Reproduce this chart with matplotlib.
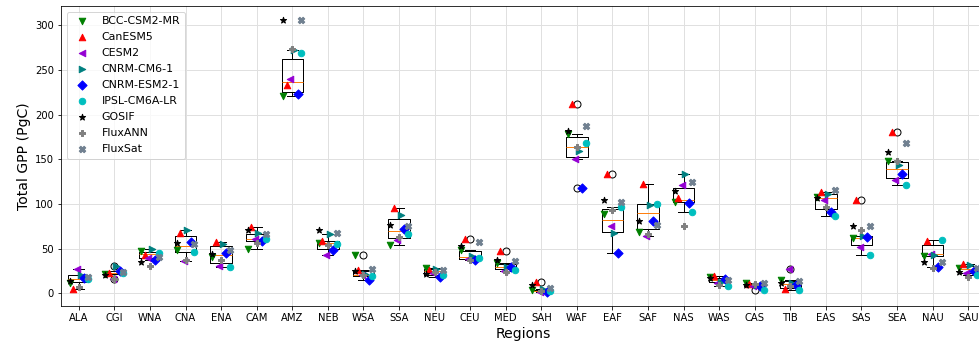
import numpy as np
import matplotlib
matplotlib.use("Agg")
import matplotlib.pyplot as plt

regions = ["ALA", "CGI", "WNA", "CNA", "ENA", "CAM", "AMZ", "NEB", "WSA", "SSA",
           "NEU", "CEU", "MED", "SAH", "WAF", "EAF", "SAF", "NAS", "WAS", "CAS",
           "TIB", "EAS", "SAS", "SEA", "NAU", "SAU"]

bcc = [12, 22, 47, 49, 41, 50, 221, 56.3, 42.5, 53.7, 28, 49, 33.5, 3.5, 178, 89, 69,
       102.5, 18, 11, 14.5, 108, 61.5, 148, 41.5, 28]
canesm5 = [4.5, 23, 43, 67, 57, 74, 233, 58.6, 25.7, 96, 26, 61, 47.5, 13, 212, 134, 122,
           107, 19.5, 10, 4.5, 113, 105, 181, 58, 33]
cesm2 = [27, 16, 39, 36, 31, 60.4, 239.5, 42.5, 20, 60, 23, 38.5, 25.5, 2, 150.5, 75, 64.5,
         121, 12, 8, 27, 105, 51.5, 127, 44.5, 22.5]
cnrm_cm6 = [21, 31, 50, 71, 55, 67.5, 272, 66.8, 22, 87.3, 27, 42, 29, 4.5, 159, 67, 99,
            133.5, 13, 9.5, 11, 111.5, 64.5, 144, 42.5, 31.5]
cnrm_esm2 = [17.5, 25.5, 37, 57, 45, 58.2, 222.8, 48, 15.3, 72.4, 18, 37, 30, 1.5, 117.5, 45.5,
             81.5, 101.5, 16, 8.5, 9.3, 91.5, 63, 133.5, 29, 25.5]
ipsl = [15.5, 22.5, 45, 46, 29.5, 61, 269.4, 55.6, 19, 66.8, 20, 40, 26.5, 2.5, 168, 96.5, 100,
        90.5, 8, 3.8, 3.8, 86, 43, 121.5, 60, 20.5]
gosif = [14, 21, 35, 56.8, 44, 70.5, 306, 70.5, 25, 76, 22, 52.6, 37, 9, 182, 105, 81,
         114.6, 17.5, 9.3, 12, 107, 75.4, 158.6, 35.5, 24.3]
fluxann = [7, 16, 31, 37.6, 37, 56, 274, 53.7, 21, 63, 24, 37.7, 24, 3, 163.4, 93, 66,
           75.4, 9.3, 10.5, 8, 97, 70.9, 148.5, 28, 17.9]
fluxsat = [18, 24, 40.6, 55.6, 48, 66.8, 306, 67.5, 26.9, 75, 25.7, 57.5, 36.2, 6.3, 187.3,
           102.6, 76.5, 125, 15, 12, 14.2, 115.7, 75.4, 167.9, 35.5, 28]

model_names = ["BCC-CSM2-MR", "CanESM5", "CESM2", "CNRM-CM6-1", "CNRM-ESM2-1", "IPSL-CM6A-LR"]
model_values = [bcc, canesm5, cesm2, cnrm_cm6, cnrm_esm2, ipsl]
obs_names = ["GOSIF", "FluxANN", "FluxSat"]
obs_values = [gosif, fluxann, fluxsat]

model_styles = [("v", "green"), ("^", "red"), ("<", "darkviolet"), (">", "teal"),
                ("D", "blue"), ("o", "c")]
model_offsets = [-0.25, -0.15, -0.05, 0.05, 0.15, 0.25]
obs_styles = [("*", "black"), ("P", "grey"), ("X", "slategrey")]
obs_offsets = [-0.25, 0.0, 0.25]

fig = plt.figure(figsize=(979 / 72, 348 / 72), dpi=72)
ax = fig.add_axes([61 / 979, 42 / 348, 925 / 979, 300 / 348])

x = np.arange(len(regions))
box_data = [np.array([m[i] for m in model_values]) for i in range(len(regions))]
ax.boxplot(box_data, positions=x, widths=0.6, manage_ticks=False,
           boxprops=dict(color="black", linewidth=1),
           whiskerprops=dict(color="black", linewidth=1),
           capprops=dict(color="black", linewidth=1),
           medianprops=dict(color="#ff7f0e", linewidth=1),
           flierprops=dict(marker="o", markerfacecolor="none",
                           markeredgecolor="black", markersize=7))

for name, vals, (mk, col), off in zip(model_names, model_values, model_styles, model_offsets):
    ax.scatter(x + off, vals, marker=mk, color=col, s=42, label=name, zorder=3)
for name, vals, (mk, col), off in zip(obs_names, obs_values, obs_styles, obs_offsets):
    ax.scatter(x + off, vals, marker=mk, color=col, s=42, label=name, zorder=3)

ax.set_xlim(-0.5, len(regions) - 0.5)
ax.set_ylim(-14.2, 321.6)
ax.set_xticks(x)
ax.set_xticklabels(regions, fontsize=10)
ax.set_yticks(np.arange(0, 301, 50))
ax.tick_params(axis="y", labelsize=10)
ax.grid(True, color="#e0e0e0", linewidth=1)
ax.set_axisbelow(True)
ax.set_xlabel("Regions", fontsize=14)
ax.set_ylabel("Total GPP (PgC)", fontsize=14)
ax.legend(loc="upper left", fontsize=11, labelspacing=0.55)

fig.savefig("out.png", dpi=72)
